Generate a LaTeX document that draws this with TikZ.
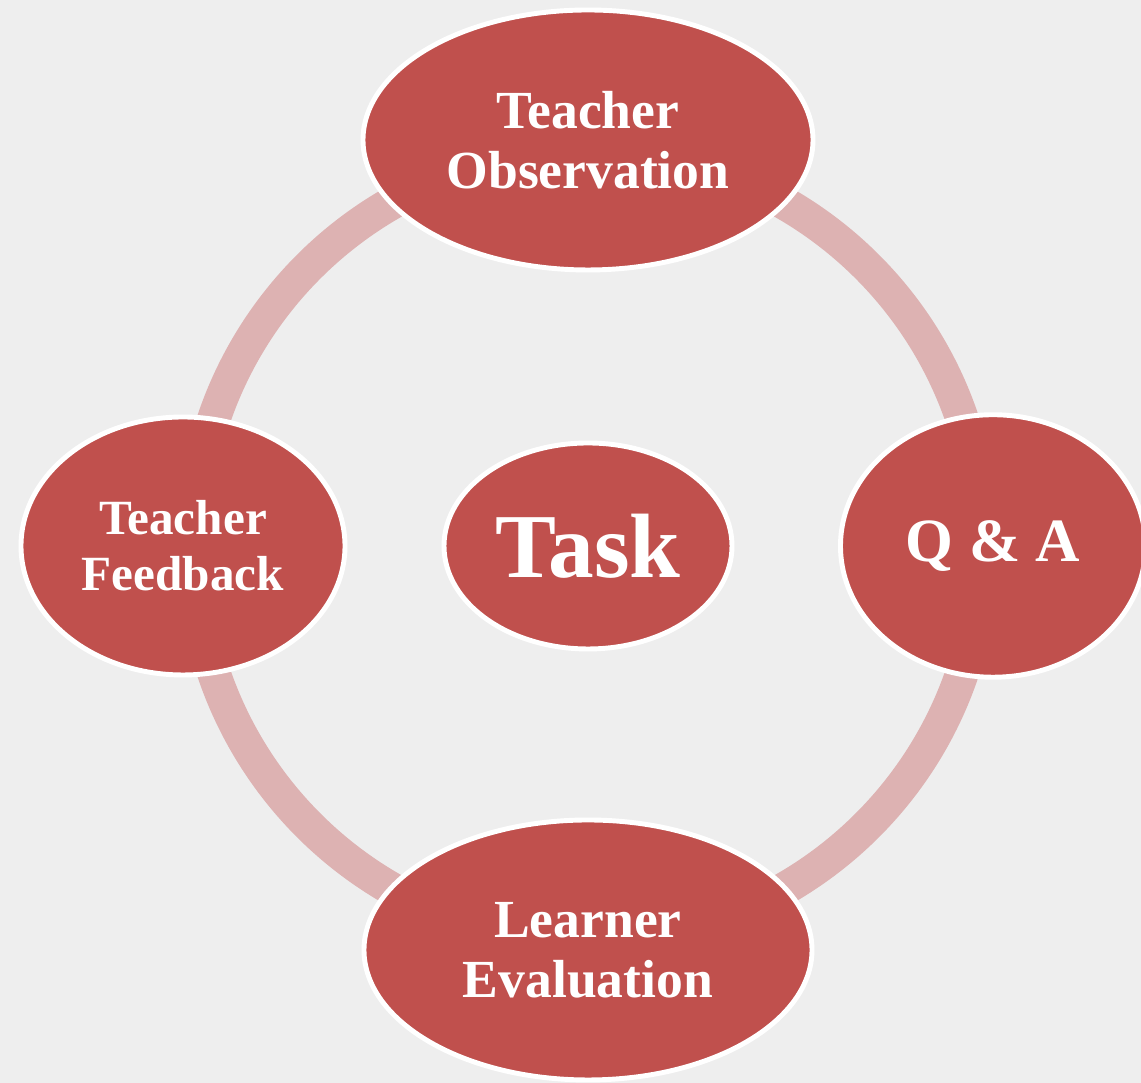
\documentclass[tikz,border=0pt]{standalone}
\usepackage{fontspec}
\setmainfont{Liberation Serif}
\usetikzlibrary{positioning, shapes.geometric}
\definecolor{bubblered}{HTML}{C0504D}
\definecolor{ringpink}{HTML}{DDB2B2}
\definecolor{paper}{HTML}{EEEEEE}

\begin{document}
\begin{tikzpicture}[node distance=8.1cm, on grid,
    bubble/.style={ellipse, fill=bubblered, draw=white, line width=2.8pt, inner sep=0pt,
        text=white, align=center, font=\bfseries\fontsize{30.5}{34}\selectfont},
    ring/.style={draw=ringpink, line width=19pt}]
    \fill[paper] (0,0) rectangle (22.82,21.66);
    \useasboundingbox (0,0) rectangle (22.82,21.66);
    \coordinate (mid) at (11.76,10.74);
    \draw[ring] (mid) circle[radius=7.9cm];

    \node[bubble, minimum width=5.76cm, minimum height=4.12cm,
        font=\bfseries\fontsize{52}{56}\selectfont] (task) at (mid) {Task};
    \node[bubble, above=8.12cm of task, minimum width=9cm, minimum height=5.2cm] (obs) {Teacher\\Observation};
    \node[bubble, right=of task, minimum width=6.1cm, minimum height=5.25cm,
        font=\bfseries\fontsize{35}{40}\selectfont] (qa) {Q \& A};
    \node[bubble, below=8.08cm of task, minimum width=8.96cm, minimum height=5.2cm] (eval) {Learner\\Evaluation};
    \node[bubble, left=of task, minimum width=6.48cm, minimum height=5.16cm,
        font=\bfseries\fontsize{28}{32}\selectfont] (feedback) {Teacher\\Feedback};
\end{tikzpicture}
\end{document}
